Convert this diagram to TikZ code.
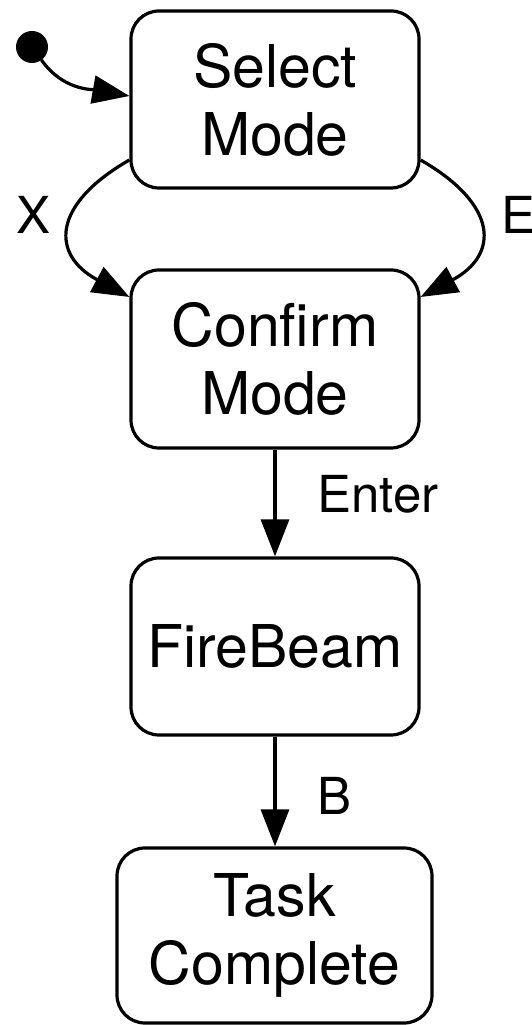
\documentclass[tikz,border=0pt]{standalone}
\usepackage{fontspec}
\setmainfont{TeX Gyre Heros}
\usetikzlibrary{arrows.meta}
\begin{document}
\begin{tikzpicture}[x=1pt,y=1pt,
  state/.style={draw, line width=3.2pt, rounded corners=28pt, minimum width=288pt,
    minimum height=177pt, align=center, inner sep=0pt,
    font=\fontsize{59}{68}\selectfont},
  edgelabel/.style={anchor=base west, inner sep=0pt, font=\fontsize{51}{60}\selectfont},
  conn/.style={line width=3.2pt, -{Triangle[length=37pt,width=28pt]}}]
\useasboundingbox (0,0) rectangle (531,1025);
\node[state] (sel) at (275,925.5) {Select\\Mode};
\node[state, minimum height=178pt] (conf) at (275,666) {Confirm\\Mode};
\node[state] (fire) at (275,378.5) {FireBeam};
\node[state, minimum width=315pt, minimum height=175pt] (task) at (274.5,89.5) {Task\\Complete};
\coordinate (initc) at (32,978);
\fill (initc) circle (16pt);
\draw[conn] ([shift={(-54:16pt)}]initc) to[out=-55,in=170] ([yshift=3.5pt]sel.west);
\draw[conn] ([yshift=-60.5pt]sel.west) .. controls (51,820) and (51,770) .. ([yshift=62pt]conf.west);
\draw[conn] ([yshift=-60.5pt]sel.east) .. controls (499,820) and (499,770) .. ([yshift=62pt]conf.east);
\draw[conn] (conf.south) -- (conf.south |- fire.north);
\draw[conn] (fire.south) -- (fire.south |- task.north);
\node[edgelabel] (lx) at (16,791) {X};
\node[edgelabel] (le) at (501,791) {E};
\node[edgelabel] (lenter) at (317,512) {Enter};
\node[edgelabel] (lb) at (317,210) {B};
\end{tikzpicture}
\end{document}
